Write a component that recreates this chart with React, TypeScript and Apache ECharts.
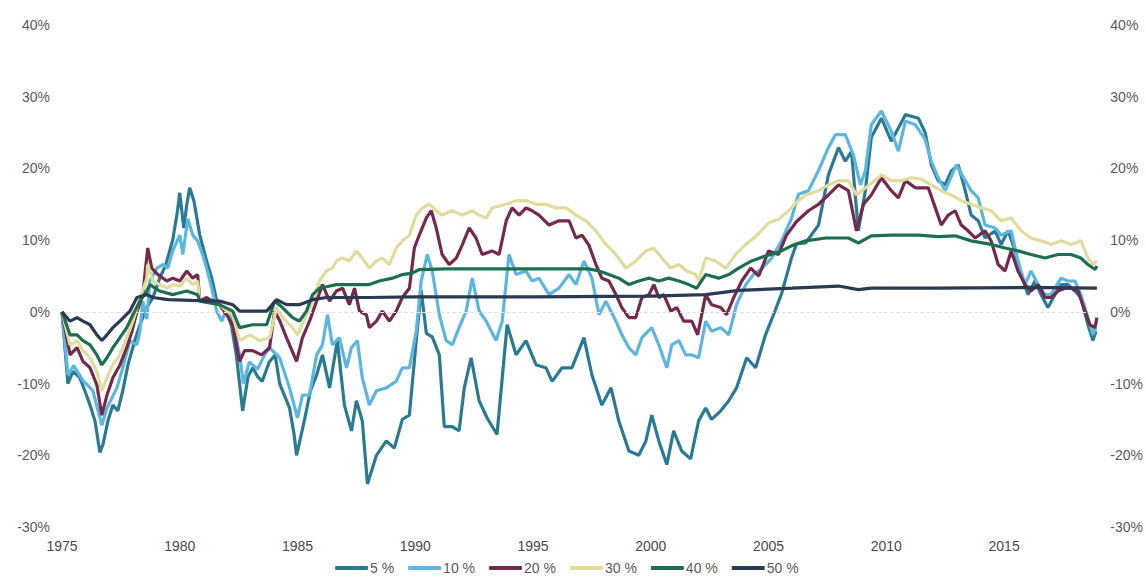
import React, { useEffect, useRef } from "react";
import * as echarts from "echarts";

type Pt = [number, number];

const seriesNames = ["5 %", "10 %", "20 %", "30 %", "40 %", "50 %"];
const seriesColors = ["#2b7a93", "#5cb6dd", "#74294d", "#e0dc9c", "#1e6f50", "#2a3a52"];
const yTicks = [-30, -20, -10, 0, 10, 20, 30, 40];
const xTicks = [1975, 1980, 1985, 1990, 1995, 2000, 2005, 2010, 2015];

const s5: Pt[] = [
  [1975.0, 0], [1975.25, -10], [1975.47, -8.3], [1975.76, -9.2], [1975.97, -11], [1976.19, -13], [1976.4, -15.2],
  [1976.61, -19.6], [1976.74, -18.5], [1976.95, -15.2], [1977.16, -13], [1977.37, -13.8], [1977.58, -11],
  [1977.8, -7.4], [1978.09, -4], [1978.31, -1.8], [1978.6, 0.6], [1978.86, 2], [1979.15, 4.7], [1979.4, 6.5],
  [1979.7, 10], [1979.9, 14], [1980.0, 16.6], [1980.17, 11.7], [1980.3, 15], [1980.42, 17.3], [1980.6, 15.5],
  [1980.85, 10.7], [1981.14, 7.1], [1981.36, 4.7], [1981.57, 1.5], [1981.8, 0.5], [1982.0, 0], [1982.2, -2],
  [1982.4, -6], [1982.67, -13.8], [1982.9, -9], [1983.1, -7.8], [1983.3, -9], [1983.5, -9.7], [1983.8, -7],
  [1984.05, -6], [1984.24, -10], [1984.66, -13.4], [1984.85, -17], [1984.96, -20], [1985.3, -15], [1985.55, -11],
  [1985.81, -8.8], [1986.06, -6], [1986.36, -10.6], [1986.69, -4], [1986.99, -13], [1987.29, -16.6],
  [1987.5, -12.4], [1987.75, -15.2], [1987.97, -24], [1988.35, -20], [1988.77, -18], [1989.11, -19],
  [1989.45, -15], [1989.75, -14.4], [1990.04, -4], [1990.25, 3], [1990.47, -3], [1990.72, -3.5], [1991.02, -6],
  [1991.23, -16], [1991.57, -16], [1991.86, -16.6], [1992.08, -10.6], [1992.37, -6.4], [1992.71, -12.4],
  [1993.05, -14.8], [1993.47, -17.1], [1993.9, -1.8], [1994.28, -6], [1994.7, -4], [1995.13, -7.4],
  [1995.55, -7.8], [1995.81, -9.7], [1996.23, -7.8], [1996.65, -7.8], [1997.16, -3.6], [1997.5, -8.8],
  [1997.92, -13], [1998.31, -10.6], [1998.64, -15.2], [1999.07, -19.4], [1999.49, -20], [1999.79, -18],
  [2000.04, -14.4], [2000.34, -18], [2000.68, -21.3], [2000.97, -16.6], [2001.31, -19.4], [2001.69, -20.5],
  [2002.03, -15.2], [2002.33, -13.4], [2002.58, -15], [2002.97, -13.8], [2003.31, -12.4], [2003.64, -10.6],
  [2004.07, -6.4], [2004.45, -7.8], [2004.87, -3.2], [2005.21, -0.4], [2005.55, 2.5], [2005.97, 7.5],
  [2006.19, 9.5], [2006.57, 9.6], [2007.12, 12.1], [2007.54, 19.1], [2007.97, 22.9], [2008.26, 21],
  [2008.52, 22.4], [2008.81, 11.3], [2009.11, 16.9], [2009.36, 24.3], [2009.79, 27], [2010.21, 23.8],
  [2010.81, 27.5], [2011.36, 27], [2011.65, 25], [2011.91, 20.5], [2012.2, 18.3], [2012.5, 17.7],
  [2012.75, 19.6], [2013.05, 20.5], [2013.35, 16.9], [2013.6, 13.5], [2013.9, 12.7], [2014.19, 10.3],
  [2014.62, 11.3], [2014.87, 9.4], [2015.17, 11.3], [2015.47, 8.5], [2015.72, 5.2], [2016.02, 2.4],
  [2016.31, 4.3], [2016.57, 2.4], [2016.86, 0.6], [2017.16, 2.4], [2017.42, 3.8], [2017.71, 3.8],
  [2018.01, 2.9], [2018.26, 2], [2018.56, -1.8], [2018.77, -4], [2018.9, -2.7],
];

const s10: Pt[] = [
  [1975.0, 0], [1975.25, -8.8], [1975.5, -7.5], [1975.89, -9.6], [1976.31, -11], [1976.69, -15.8],
  [1976.91, -13.4], [1977.33, -10.6], [1977.58, -7.8], [1977.88, -4], [1978.18, -4.6], [1978.31, -2.7],
  [1978.43, 1.5], [1978.6, -1], [1978.73, 4.3], [1979.03, 6.1], [1979.28, 6.6], [1979.49, 6.1],
  [1979.7, 8.5], [1980.0, 10.7], [1980.13, 8], [1980.34, 13], [1980.55, 10.7], [1980.76, 9.9], [1980.97, 8],
  [1981.14, 6.1], [1981.36, 3.3], [1981.57, 0.1], [1981.78, -1.3], [1982.0, 0.5], [1982.3, -2],
  [1982.54, -6], [1982.7, -10], [1982.95, -7], [1983.3, -8], [1983.6, -6], [1983.81, -5], [1984.24, -6.4],
  [1984.66, -10.6], [1985.0, -14.8], [1985.21, -11.6], [1985.51, -11.6], [1985.81, -6], [1986.06, -4.6],
  [1986.27, -0.4], [1986.48, -4.6], [1986.78, -3.6], [1987.08, -7.8], [1987.29, -5], [1987.54, -4],
  [1987.75, -9.2], [1988.05, -13], [1988.35, -11], [1988.77, -10.6], [1989.19, -9.7], [1989.45, -7.8],
  [1989.75, -7.8], [1990.04, -2.7], [1990.25, 4.3], [1990.51, 8], [1990.72, 5.7], [1991.02, -0.4],
  [1991.31, -4], [1991.57, -4.6], [1991.86, -2.2], [1992.16, 0.1], [1992.42, 4.7], [1992.71, 0.1],
  [1993.01, -1.3], [1993.43, -4], [1993.69, -1.3], [1993.98, 8], [1994.28, 5.2], [1994.7, 5.7],
  [1994.96, 4.3], [1995.25, 4.7], [1995.68, 2.4], [1996.1, 3.3], [1996.53, 5.2], [1996.82, 3.8],
  [1997.16, 7.1], [1997.5, 4.7], [1997.8, -0.4], [1998.09, 1.5], [1998.52, -1.3], [1998.77, -3.2],
  [1999.07, -5], [1999.36, -6], [1999.62, -3.6], [2000.04, -2.2], [2000.34, -4.6], [2000.68, -7.8],
  [2000.89, -4.6], [2001.19, -4], [2001.48, -6], [2001.74, -6], [2002.03, -6.4], [2002.33, -1.3],
  [2002.58, -2.7], [2002.97, -2.2], [2003.31, -3.2], [2003.64, 1], [2004.03, 3.8], [2004.36, 5.2],
  [2004.7, 6], [2005.13, 7.5], [2005.55, 9.9], [2005.97, 13], [2006.27, 16.4], [2006.69, 16.9],
  [2007.12, 19.7], [2007.54, 22.9], [2007.84, 24.7], [2008.26, 24.7], [2008.6, 21.9], [2008.9, 17.7],
  [2009.11, 19.7], [2009.36, 26.1], [2009.79, 28], [2010.21, 25.2], [2010.51, 22.4], [2010.81, 26.6],
  [2011.23, 26.1], [2011.65, 24], [2011.91, 21], [2012.2, 18.7], [2012.5, 16.9], [2012.97, 20.5],
  [2013.35, 18.3], [2013.6, 16.9], [2013.9, 15.9], [2014.19, 12.1], [2014.62, 11.7], [2014.87, 10.7],
  [2015.3, 11.3], [2015.59, 7.1], [2015.89, 3.8], [2016.14, 5.7], [2016.44, 3.8], [2016.74, 2.4],
  [2016.99, 2.4], [2017.42, 4.7], [2017.71, 4.3], [2018.01, 4.3], [2018.26, 2.4], [2018.56, -0.8],
  [2018.77, -3.2], [2018.9, -2.2],
];

const s20: Pt[] = [
  [1975.0, 0], [1975.34, -6], [1975.64, -5], [1975.89, -6.9], [1976.19, -7.8], [1976.48, -10.2],
  [1976.69, -14.4], [1976.91, -11.6], [1977.16, -9.2], [1977.46, -7.4], [1977.75, -5], [1977.97, -2.7],
  [1978.18, 0], [1978.43, 2.4], [1978.64, 8.9], [1978.81, 6.1], [1979.07, 5.2], [1979.45, 4.3],
  [1979.7, 4.7], [1980.0, 4.3], [1980.3, 5.7], [1980.55, 4.7], [1980.76, 5.2], [1980.85, 1.5],
  [1981.14, 2], [1981.4, 1.5], [1981.69, 1], [1981.99, -0.4], [1982.25, -1.8], [1982.54, -6.9],
  [1982.75, -5.4], [1983.09, -5.4], [1983.47, -6], [1983.81, -5], [1984.03, 0.1], [1984.24, -1.2],
  [1984.53, -3.6], [1984.96, -6.9], [1985.21, -3.6], [1985.51, -1.3], [1985.81, 1.5], [1986.06, 3.8],
  [1986.36, 1.5], [1986.65, 2.9], [1986.91, 3.3], [1987.2, 1], [1987.42, 3.3], [1987.63, 0.1],
  [1987.92, -0.4], [1988.05, -2.2], [1988.35, -1.3], [1988.6, 0.1], [1988.9, -1.3], [1989.19, 0.1],
  [1989.45, 2], [1989.75, 3.3], [1989.96, 8.9], [1990.17, 10.7], [1990.47, 13.1], [1990.68, 14.1],
  [1990.89, 11.7], [1991.14, 8], [1991.44, 6.6], [1991.74, 7.5], [1991.99, 9.3], [1992.29, 11.7],
  [1992.58, 10.3], [1992.84, 8], [1993.26, 8.5], [1993.56, 8], [1993.86, 12.7], [1994.11, 14.5],
  [1994.41, 13.5], [1994.7, 14.5], [1994.96, 14.1], [1995.25, 13.5], [1995.68, 12.1], [1996.1, 12.7],
  [1996.53, 12.7], [1996.82, 10.3], [1997.08, 10.7], [1997.37, 9.3], [1997.67, 6.6], [1997.92, 4.7],
  [1998.22, 4.3], [1998.52, 2.4], [1998.77, 0.6], [1999.07, -0.8], [1999.36, -0.8], [1999.62, 2],
  [1999.92, 2.4], [2000.13, 3.8], [2000.34, 2], [2000.55, 2.4], [2000.85, 0.1], [2001.1, 0.6],
  [2001.4, -1.3], [2001.74, -1.3], [2001.99, -3.2], [2002.33, 2.4], [2002.58, 1], [2002.97, 0.6],
  [2003.22, -0.4], [2003.52, 2], [2003.86, 4.3], [2004.24, 6.1], [2004.58, 5], [2005.0, 8.5],
  [2005.42, 8], [2005.76, 10.7], [2006.19, 12.6], [2006.69, 14.1], [2007.12, 15], [2007.54, 16.3],
  [2007.97, 17.7], [2008.39, 16.9], [2008.73, 11.3], [2009.03, 15], [2009.36, 16.3], [2009.79, 18.7],
  [2010.21, 16.9], [2010.51, 15.9], [2010.81, 18.3], [2011.23, 17.3], [2011.78, 17.3], [2012.08, 14.5],
  [2012.33, 12.1], [2012.63, 13.5], [2012.92, 14.1], [2013.18, 12.1], [2013.47, 11.3], [2013.77, 10.3],
  [2014.19, 11.3], [2014.45, 9.9], [2014.75, 6.6], [2015.04, 5.7], [2015.3, 8.5], [2015.59, 5.7],
  [2015.89, 3.8], [2016.14, 2.9], [2016.44, 3.8], [2016.74, 2], [2016.99, 2], [2017.29, 2.9],
  [2017.58, 3.3], [2017.84, 3.3], [2018.14, 2.9], [2018.43, 0.1], [2018.64, -1.8], [2018.86, -2.2],
  [2018.94, -0.8],
];

const s30: Pt[] = [
  [1975.0, 0], [1975.34, -4.6], [1975.64, -4], [1975.89, -5.4], [1976.19, -6.4], [1976.48, -8.3],
  [1976.69, -11], [1976.91, -9.2], [1977.16, -7.4], [1977.46, -6], [1977.75, -3.6], [1978.01, -1.3],
  [1978.22, 1], [1978.6, 4.7], [1978.64, 6.6], [1978.86, 4.3], [1979.15, 3.8], [1979.45, 3.3],
  [1979.7, 3.8], [1980.0, 3.6], [1980.3, 4.7], [1980.55, 3.8], [1980.76, 4.3], [1980.85, 1.5],
  [1981.14, 1.5], [1981.69, 1], [1981.99, 0.1], [1982.25, -0.4], [1982.54, -4], [1982.97, -3.2],
  [1983.39, -4], [1983.81, -3.6], [1984.11, 0.6], [1984.36, -0.8], [1984.79, -2.2], [1985.0, -3.2],
  [1985.38, -0.4], [1985.64, 1.5], [1985.93, 4.3], [1986.23, 5.7], [1986.48, 6.1], [1986.65, 7.1],
  [1986.91, 7.5], [1987.2, 7.1], [1987.5, 8.5], [1987.75, 7.5], [1988.05, 6.1], [1988.35, 7.1],
  [1988.6, 7.5], [1988.9, 6.6], [1989.19, 8.9], [1989.45, 9.9], [1989.75, 10.7], [1990.04, 13.5],
  [1990.3, 14.5], [1990.59, 15], [1990.89, 14.1], [1991.14, 13.5], [1991.57, 14.1], [1991.99, 13.5],
  [1992.42, 14.1], [1992.71, 13.5], [1993.01, 13.1], [1993.26, 14.5], [1993.86, 15], [1994.28, 15.5],
  [1994.7, 15.5], [1995.13, 15], [1995.55, 15], [1995.97, 14.5], [1996.4, 14.5], [1996.82, 13.5],
  [1997.25, 12.7], [1997.67, 11.3], [1998.09, 9.4], [1998.52, 8], [1998.94, 6.1], [1999.36, 7.1],
  [1999.79, 8.5], [2000.13, 8.9], [2000.47, 7.5], [2000.85, 6.1], [2001.19, 6.6], [2001.53, 5.7],
  [2001.91, 5.2], [2002.03, 4.3], [2002.33, 7.5], [2002.75, 7.1], [2003.18, 6.1], [2003.6, 8],
  [2004.03, 9.4], [2004.45, 10.5], [2005.0, 12.4], [2005.42, 12.9], [2005.85, 14.1], [2006.19, 15.3],
  [2006.57, 16.3], [2007.12, 16.9], [2007.54, 17.7], [2007.97, 18.3], [2008.39, 18.3], [2008.73, 16.3],
  [2009.11, 17.3], [2009.53, 18.3], [2009.79, 19.1], [2010.21, 18.3], [2010.64, 18.3], [2011.06, 18.7],
  [2011.48, 18.5], [2011.91, 17.7], [2012.33, 16.9], [2012.75, 16.3], [2013.18, 15.5], [2013.6, 15],
  [2014.03, 14.5], [2014.45, 14.1], [2014.87, 12.7], [2015.3, 13.1], [2015.72, 11.3], [2016.14, 10.3],
  [2016.57, 9.9], [2016.99, 9.4], [2017.42, 9.9], [2017.84, 9.4], [2018.26, 9.9], [2018.56, 7.5],
  [2018.77, 6.6], [2018.94, 7.1],
];

const s40: Pt[] = [
  [1975.0, 0], [1975.34, -3.2], [1975.64, -3.2], [1975.89, -4], [1976.19, -4.6], [1976.48, -6],
  [1976.69, -7.4], [1976.91, -6.4], [1977.16, -5], [1977.46, -3.6], [1977.75, -2.2], [1978.01, -0.4],
  [1978.31, 1.5], [1978.6, 2.9], [1978.73, 3.8], [1979.15, 2.9], [1979.7, 2.4], [1980.3, 2.9],
  [1980.76, 2.4], [1980.85, 1.5], [1981.69, 1], [1982.25, 0.1], [1982.54, -2.2], [1983.09, -1.8],
  [1983.69, -1.8], [1984.03, 1.5], [1984.36, 0.6], [1984.79, -0.8], [1985.08, -1.3], [1985.38, 0.1],
  [1985.64, 2.4], [1985.93, 3.3], [1986.23, 3.5], [1986.65, 3.8], [1987.33, 3.8], [1988.05, 3.8],
  [1988.47, 4.3], [1989.03, 4.7], [1989.45, 5.2], [1989.87, 5.4], [1990.17, 5.9], [1991.31, 6],
  [1992.71, 6], [1996.1, 6], [1997.37, 6], [1997.8, 5.7], [1998.22, 5.2], [1998.64, 4.7], [1999.07, 3.8],
  [1999.49, 4.3], [1999.92, 4.7], [2000.34, 4.3], [2000.76, 4.7], [2001.19, 4.3], [2001.61, 3.8],
  [2001.95, 3.3], [2002.33, 5.2], [2002.88, 4.7], [2003.31, 5.2], [2003.73, 6.1], [2004.28, 7.1],
  [2004.87, 7.8], [2005.42, 8.3], [2005.97, 9.2], [2006.57, 9.9], [2007.42, 10.3], [2008.39, 10.3],
  [2008.81, 9.6], [2009.36, 10.6], [2010.21, 10.7], [2011.36, 10.7], [2012.2, 10.5], [2012.92, 10.6],
  [2013.6, 9.9], [2014.45, 9.4], [2015.04, 8.9], [2015.59, 8.5], [2016.14, 8], [2016.74, 7.5],
  [2017.29, 8], [2017.84, 8], [2018.26, 7.5], [2018.56, 6.6], [2018.86, 5.9], [2018.94, 6.4],
];

const s50: Pt[] = [
  [1975.0, 0], [1975.34, -1.3], [1975.64, -0.8], [1975.89, -1.3], [1976.19, -1.8], [1976.48, -3.2],
  [1976.69, -4], [1976.91, -3.2], [1977.16, -2.2], [1977.46, -1.3], [1977.88, 0.1], [1978.18, 2],
  [1978.6, 2.4], [1978.86, 2], [1979.5, 1.7], [1980.5, 1.6], [1981.69, 1.5], [1982.25, 1],
  [1982.54, 0.1], [1983.69, 0.1], [1984.11, 1.7], [1984.53, 1], [1985.08, 1], [1985.64, 1.7],
  [1986.23, 2], [1988.0, 2], [1990.0, 2.1], [1995.0, 2.1], [2000.0, 2.2], [2002.33, 2.4], [2003.73, 3],
  [2006.0, 3.3], [2007.97, 3.6], [2008.81, 3.1], [2009.36, 3.3], [2012.0, 3.3], [2016.0, 3.4],
  [2018.94, 3.3],
];

const seriesData: Pt[][] = [s5, s10, s20, s30, s40, s50];

const FONT = "'Liberation Sans', Arial, sans-serif";

export default function App() {
  const ref = useRef<HTMLDivElement>(null);
  useEffect(() => {
    if (!ref.current) return;
    const chart = echarts.init(ref.current, undefined, { renderer: "svg" });
    const yAxisBase = {
      type: "value" as const,
      min: yTicks[0],
      max: yTicks[yTicks.length - 1],
      interval: 10,
      axisLine: { show: false },
      axisTick: { show: false },
      splitLine: { show: false },
      axisLabel: {
        formatter: "{value}%",
        color: "#5a5a5a",
        fontSize: 14,
        fontFamily: FONT,
        margin: 12,
      },
    };
    chart.setOption({
      animation: false,
      backgroundColor: "#ffffff",
      grid: { left: 62, right: 45.6, top: 25, bottom: 55, containLabel: false },
      xAxis: {
        type: "value",
        min: xTicks[0],
        max: 2019,
        interval: 5,
        axisLine: { show: false },
        axisTick: { show: false },
        splitLine: { show: false },
        axisLabel: {
          color: "#4a4a4a",
          fontSize: 14,
          fontFamily: FONT,
          margin: 12,
          showMaxLabel: false,
          formatter: (v: number) => (xTicks.indexOf(v) >= 0 ? String(v) : ""),
        },
      },
      yAxis: [
        { ...yAxisBase, position: "left" },
        { ...yAxisBase, position: "right" },
      ],
      legend: {
        data: seriesNames,
        left: 335,
        top: 561,
        padding: 0,
        icon: "roundRect",
        itemWidth: 33,
        itemHeight: 4,
        itemGap: 14,
        textStyle: { color: "#5a5a5a", fontSize: 14, fontFamily: FONT, padding: [0, 0, 0, -3] },
      },
      series: seriesNames.map((name, i) => ({
        name,
        type: "line",
        data: seriesData[i],
        yAxisIndex: 0,
        symbol: "none",
        showSymbol: false,
        color: seriesColors[i],
        lineStyle: { width: 3.2, color: seriesColors[i] },
        z: 2 + i,
        markLine:
          i === 0
            ? {
                silent: true,
                symbol: "none",
                label: { show: false },
                lineStyle: { color: "#e4e4e4", type: "dashed", width: 1 },
                data: [{ yAxis: 0 }],
              }
            : undefined,
      })),
    });
    return () => chart.dispose();
  }, []);
  return (
    <div
      ref={ref}
      style={{ position: "fixed", left: 0, top: 0, width: 1146, height: 582 }}
    />
  );
}
